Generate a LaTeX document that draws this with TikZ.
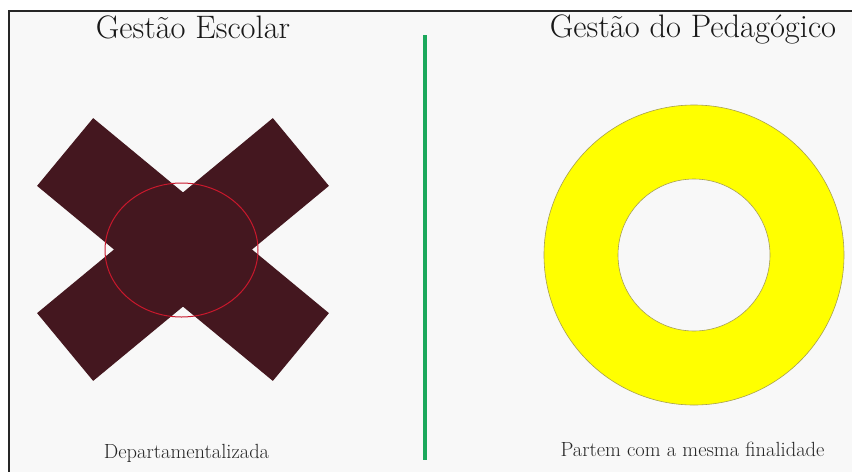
\documentclass[tikz,border=0pt]{standalone}
\usepackage{xcolor}
\usepackage{tikz}
\usetikzlibrary{positioning,shapes.geometric,calc}
\definecolor{paper}{HTML}{F8F8F8}
\definecolor{maroon}{HTML}{44171F}
\definecolor{ringred}{HTML}{C8182C}
\definecolor{divgreen}{HTML}{1BA85C}
\definecolor{donut}{HTML}{FFFF00}
\definecolor{donutline}{HTML}{A8A050}
\tikzset{
  title/.style = {font=\fontsize{32.5}{34}\selectfont, anchor=base, inner sep=0pt, text=black!90},
  caption/.style = {font=\fontsize{20.5}{22}\selectfont, anchor=base, inner sep=0pt, text=black!85},
  arm/.style = {rectangle, fill=maroon, minimum width=306pt, minimum height=88pt, inner sep=0pt},
}

\begin{document}
\begin{tikzpicture}[x = 1pt, y = -1pt]
\useasboundingbox (0,0) rectangle (852,472);
\fill[paper] (9,11) rectangle (852,472);
\draw[line width=2pt, black!85] (852,11) -- (9,11) -- (9,472);

\node[title] (esc) at (193,38) {Gestão Escolar};
\node[title] (ped) at (693,37) {Gestão do Pedagógico};

\node[arm, rotate=39.6] (armA) at (183,249.5) {};
\node[arm, rotate=-39.6] (armB) at (183,249.5) {};
\node[ellipse, draw=ringred, line width=1pt, minimum width=153pt, minimum height=134pt, inner sep=0pt] (ring) at (181.5,250) {};
\node[caption] (dep) at (186.5,458) {Departamentalizada};

\coordinate (top) at (425,35);
\coordinate (bot) at (425,460);
\draw[line width=4pt, divgreen] (top) -- (bot);

\node[circle, fill=donut, draw=donutline, line width=0.6pt, minimum size=300pt, inner sep=0pt] (outer) at (694,255) {};
\node[circle, fill=paper, draw=donutline, line width=0.6pt, minimum size=152pt, inner sep=0pt] (inner) at (694,255) {};
\node[caption] (fin) at (692.5,456) {Partem com a mesma finalidade};
\end{tikzpicture}
\end{document}
